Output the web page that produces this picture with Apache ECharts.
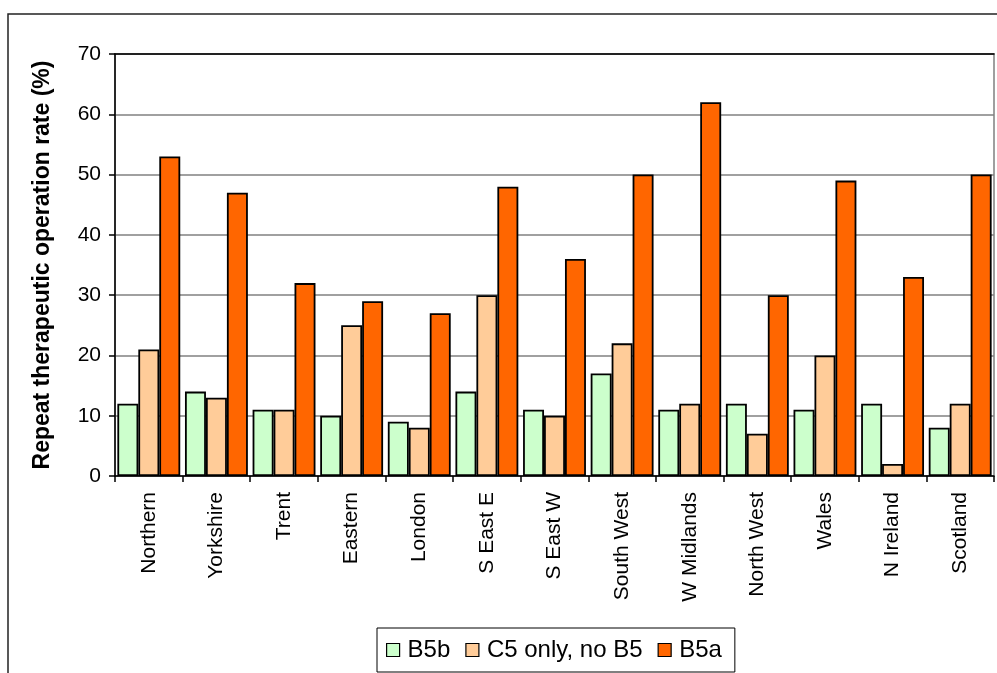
<!DOCTYPE html>
<html>
<head>
<meta charset="utf-8">
<script src="https://cdn.jsdelivr.net/npm/echarts@6/dist/echarts.min.js"></script>
<style>
  html, body { margin: 0; padding: 0; background: #fff; }
  #chart { width: 997px; height: 673px; }
</style>
</head>
<body>
<div id="chart"></div>
<script>
// Regions along the category axis
const regions = ['Northern', 'Yorkshire', 'Trent', 'Eastern', 'London', 'S East E',
  'S East W', 'South West', 'W Midlands', 'North West', 'Wales', 'N Ireland', 'Scotland'];

// Repeat therapeutic operation rate (%) by group
const b5b = [12, 14, 11, 10, 9, 14, 11, 17, 11, 12, 11, 12, 8];
const c5OnlyNoB5 = [21, 13, 11, 25, 8, 30, 10, 22, 12, 7, 20, 2, 12];
const b5a = [53, 47, 32, 29, 27, 48, 36, 50, 62, 30, 49, 33, 50];

const yTicks = [0, 10, 20, 30, 40, 50, 60, 70];

const FONT = 'Liberation Sans, Arial, sans-serif';
const chart = echarts.init(document.getElementById('chart'), null, { renderer: 'canvas' });

function barSeries(name, data, color) {
  return {
    name: name,
    type: 'bar',
    data: data,
    barGap: '0%',
    barCategoryGap: '7%',
    itemStyle: { color: color, borderColor: '#000', borderWidth: 1.8 },
    emphasis: { disabled: true }
  };
}

chart.setOption({
  animation: false,
  backgroundColor: '#fff',
  graphic: [{
    type: 'rect',
    shape: { x: 8, y: 14, width: 1000, height: 700 },
    style: { fill: 'none', stroke: '#222', lineWidth: 1.5 },
    z: -1
  }],
  grid: {
    left: 115, top: 54, right: 3, bottom: 197,
    show: true, borderColor: '#808080', borderWidth: 1.5
  },
  legend: {
    left: 377, top: 628,
    padding: [10, 13, 10, 9],
    borderColor: '#000', borderWidth: 1,
    itemWidth: 13, itemHeight: 13, itemGap: 15,
    icon: 'rect',
    textStyle: { fontFamily: FONT, fontSize: 24, color: '#000', padding: [0, 0, 0, 3] },
    itemStyle: { borderColor: '#000', borderWidth: 1.2 },
    data: ['B5b', 'C5 only, no B5', 'B5a']
  },
  xAxis: [{
    type: 'category',
    data: regions,
    axisLine: { lineStyle: { color: '#000', width: 1.5 } },
    axisTick: { show: true, length: 6, alignWithLabel: false, lineStyle: { color: '#000', width: 1.5 } },
    axisLabel: { rotate: 90, fontFamily: FONT, fontSize: 21, color: '#000', margin: 16, interval: 0 }
  }, {
    type: 'category',
    position: 'top',
    data: regions,
    axisLine: { show: true, lineStyle: { color: '#000', width: 1.5 } },
    axisTick: { show: false },
    axisLabel: { show: false }
  }],
  yAxis: {
    type: 'value',
    min: yTicks[0], max: yTicks[yTicks.length - 1], interval: 10,
    name: 'Repeat therapeutic operation rate (%)',
    nameLocation: 'middle',
    nameGap: 61,
    nameTextStyle: { fontFamily: FONT, fontSize: 23, fontWeight: 'bold', color: '#000' },
    axisLine: { show: true, lineStyle: { color: '#000', width: 1.5 } },
    axisTick: { show: true, length: 6, lineStyle: { color: '#000', width: 1.5 } },
    axisLabel: { fontFamily: FONT, fontSize: 21, color: '#000', margin: 14 },
    splitLine: { lineStyle: { color: '#808080', width: 1.5 } }
  },
  series: [
    barSeries('B5b', b5b, '#CCFFCC'),
    barSeries('C5 only, no B5', c5OnlyNoB5, '#FFCC99'),
    barSeries('B5a', b5a, '#FF6600')
  ]
});
</script>
</body>
</html>
